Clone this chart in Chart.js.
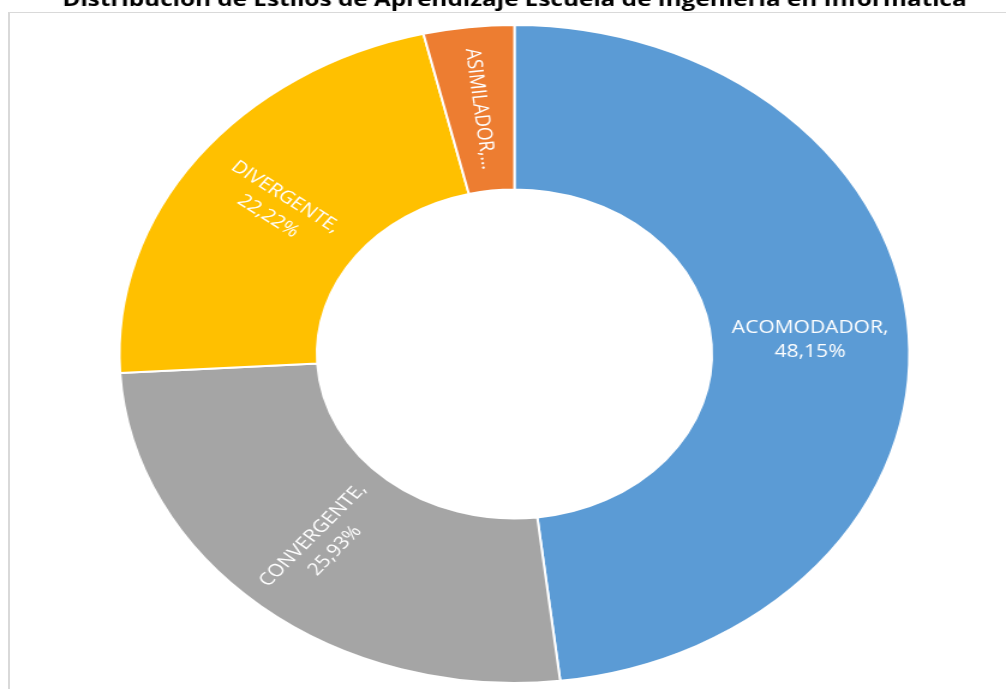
<!DOCTYPE html>
<html>
<head>
<meta charset="utf-8">
<script src="https://cdn.jsdelivr.net/npm/chart.js@4.4.1/dist/chart.umd.min.js"></script>
<style>
    html, body { margin: 0; padding: 0; background: #fff; overflow: hidden; }
    #wrap { position: relative; width: 1006px; height: 689px; }
    #frame {
        position: absolute; left: 8px; top: 12px;
        width: 1010px; height: 700px;
        border-left: 2px solid #d9d9d9; border-top: 1px solid #d9d9d9;
    }
    #chart { position: absolute; left: 0; top: 0; }
</style>
</head>
<body>
<div id="wrap">
    <div id="frame"></div>
    <!-- drawn narrow, then stretched wide like the original picture -->
    <canvas id="chart" width="838" height="689" style="width:1006px;height:689px"></canvas>
</div>
<script>
// ================= DATA =================
const TITLE = 'Distribución de Estilos de Aprendizaje Escuela de Ingeniería en Informática';
const categories = ['ACOMODADOR', 'CONVERGENTE', 'DIVERGENTE', 'ASIMILADOR'];
const percents = [48.15, 25.93, 22.22, 3.70];
const colors = ['#5B9BD5', '#A5A5A5', '#FFC000', '#ED7D31'];

const STRETCH = 1006 / 838;

function fmtPct(v) {
    return v.toFixed(2).replace('.', ',') + '%';
}

// ================= PLUGINS =================
const titlePlugin = {
    id: 'topTitle',
    afterDraw(chart) {
        const ctx = chart.ctx;
        const target = 905 / STRETCH;
        ctx.save();
        let size = 20;
        ctx.font = `bold ${size}px "Open Sans"`;
        size = size * target / ctx.measureText(TITLE).width;
        ctx.font = `bold ${size}px "Open Sans"`;
        ctx.fillStyle = '#000';
        ctx.textAlign = 'center';
        ctx.textBaseline = 'alphabetic';
        ctx.fillText(TITLE, 514.5 / STRETCH, 6);
        ctx.restore();
    }
};

const sliceLabels = {
    id: 'sliceLabels',
    afterDatasetsDraw(chart) {
        const ctx = chart.ctx;
        const meta = chart.getDatasetMeta(0);
        ctx.save();
        ctx.fillStyle = '#fff';
        ctx.font = '17.5px "Open Sans"';
        ctx.textAlign = 'center';
        ctx.textBaseline = 'middle';
        meta.data.forEach((arc, i) => {
            const p = arc.getProps(['x', 'y', 'startAngle', 'endAngle', 'innerRadius', 'outerRadius'], true);
            const mid = (p.startAngle + p.endAngle) / 2;
            const r = (p.innerRadius + p.outerRadius) / 2;
            const x = p.x + Math.cos(mid) * r;
            const y = p.y + Math.sin(mid) * r;

            // text runs along the radius, always left-to-right
            let rot = Math.cos(mid) >= 0 ? mid : mid + Math.PI;
            rot = Math.atan2(Math.sin(rot), Math.cos(rot));
            if (Math.abs(rot) < 0.1) rot = 0;

            const lines = percents[i] < 5
                ? [categories[i] + ',…']
                : [categories[i] + ',', fmtPct(percents[i])];

            ctx.save();
            ctx.translate(x, y);
            ctx.rotate(rot);
            const lh = 24;
            lines.forEach((t, k) => {
                ctx.fillText(t, 0, (k - (lines.length - 1) / 2) * lh);
            });
            ctx.restore();
        });
        ctx.restore();
    }
};

// ================= CHART =================
function initChart() {
    const ctx = document.getElementById('chart').getContext('2d');
    new Chart(ctx, {
        type: 'doughnut',
        data: {
            labels: categories,
            datasets: [{
                data: percents,
                backgroundColor: colors,
                borderColor: '#ffffff',
                borderWidth: 2
            }]
        },
        options: {
            responsive: false,
            animation: false,
            devicePixelRatio: 1,
            radius: 329,
            cutout: '50%',
            layout: {
                padding: { left: 20, right: 1, top: 20, bottom: 1 }
            },
            plugins: {
                legend: { display: false },
                tooltip: { enabled: false },
                title: { display: false }
            }
        },
        plugins: [sliceLabels, titlePlugin]
    });
}

window.addEventListener('DOMContentLoaded', initChart);
</script>
</body>
</html>
